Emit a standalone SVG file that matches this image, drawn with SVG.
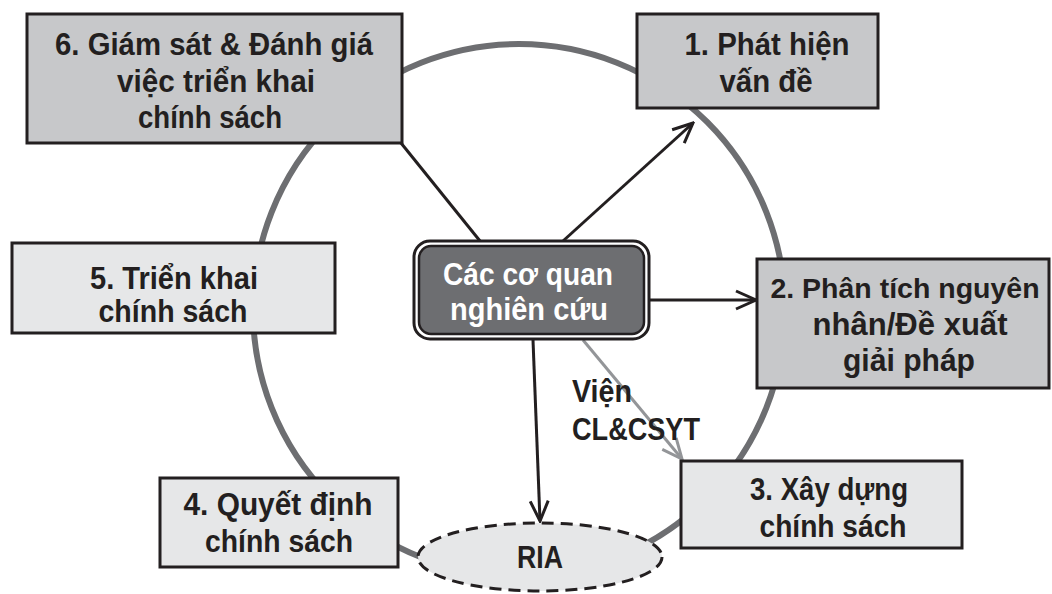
<svg xmlns="http://www.w3.org/2000/svg" width="1052" height="594" viewBox="0 0 1052 594">
<style>
.box{stroke:#231f20;stroke-width:3}
.dark{fill:#c7c8ca}
.light{fill:#e6e7e8}
.t{font-family:"Liberation Sans",Arial,sans-serif;font-weight:bold;font-size:31px;fill:#231f20;text-anchor:middle}
.w{fill:#ffffff}
.ln{stroke:#231f20;stroke-width:3;fill:none}
.gr{stroke:#939598;stroke-width:3;fill:none}
</style>
<defs>
<marker id="ah" markerUnits="userSpaceOnUse" markerWidth="24" markerHeight="24" viewBox="0 0 24 24" refX="22" refY="12" orient="auto">
<path d="M2,3 L22,12 L2,21" fill="none" stroke="#231f20" stroke-width="3"/>
</marker>
<marker id="ahg" markerUnits="userSpaceOnUse" markerWidth="24" markerHeight="24" viewBox="0 0 24 24" refX="22" refY="12" orient="auto">
<path d="M2,3 L22,12 L2,21" fill="none" stroke="#939598" stroke-width="3"/>
</marker>
</defs>
<rect width="1052" height="594" fill="#ffffff"/>
<circle id="cycle" cx="519" cy="310" r="266" fill="none" stroke="#6d6e71" stroke-width="6"/>
<g id="connectors">
<line class="ln" x1="401" y1="143" x2="480" y2="241"/>
<line class="ln" x1="563" y1="241" x2="693" y2="123" marker-end="url(#ah)"/>
<line class="ln" x1="650" y1="300" x2="756" y2="300" marker-end="url(#ah)"/>
<line class="ln" x1="533" y1="340" x2="540" y2="521" marker-end="url(#ah)"/>
<line class="gr" x1="583" y1="340" x2="682" y2="459" marker-end="url(#ahg)"/>
</g>
<g id="node6">
<rect class="box dark" x="27" y="14" width="375" height="129"/>
<text class="t" x="214" y="55" textLength="318" lengthAdjust="spacingAndGlyphs">6. Giám sát &amp; Đánh giá</text>
<text class="t" x="216" y="92" textLength="198" lengthAdjust="spacingAndGlyphs">việc triển khai</text>
<text class="t" x="210" y="128" textLength="144" lengthAdjust="spacingAndGlyphs">chính sách</text>
</g>
<g id="node1">
<rect class="box dark" x="637" y="14" width="241" height="94"/>
<text class="t" x="767" y="55" textLength="165" lengthAdjust="spacingAndGlyphs">1. Phát hiện</text>
<text class="t" x="766" y="92" textLength="93" lengthAdjust="spacingAndGlyphs">vấn đề</text>
</g>
<g id="node2">
<rect class="box dark" x="757" y="259" width="292" height="129"/>
<text class="t" x="905" y="298" style="font-size:28.5px">2. Phân tích nguyên</text>
<text class="t" x="910" y="335" textLength="195" lengthAdjust="spacingAndGlyphs">nhân/Đề xuất</text>
<text class="t" x="909" y="371" textLength="132" lengthAdjust="spacingAndGlyphs">giải pháp</text>
</g>
<g id="node5">
<rect class="box light" x="12" y="243" width="323" height="90"/>
<text class="t" x="174" y="289" textLength="168" lengthAdjust="spacingAndGlyphs">5. Triển khai</text>
<text class="t" x="173" y="322" textLength="149" lengthAdjust="spacingAndGlyphs">chính sách</text>
</g>
<g id="node4">
<rect class="box light" x="160" y="478" width="238" height="89"/>
<text class="t" x="278" y="515" textLength="189" lengthAdjust="spacingAndGlyphs">4. Quyết định</text>
<text class="t" x="279" y="552" textLength="148" lengthAdjust="spacingAndGlyphs">chính sách</text>
</g>
<g id="node3">
<rect class="box light" x="681" y="461" width="281" height="87"/>
<text class="t" x="829" y="500" textLength="158" lengthAdjust="spacingAndGlyphs">3. Xây dựng</text>
<text class="t" x="833" y="537" textLength="147" lengthAdjust="spacingAndGlyphs">chính sách</text>
</g>
<g id="ria">
<ellipse cx="540" cy="557" rx="122" ry="34" fill="#e6e7e8" stroke="#231f20" stroke-width="3" stroke-dasharray="12 7"/>
<text class="t" x="540" y="568" textLength="46" lengthAdjust="spacingAndGlyphs">RIA</text>
</g>
<g id="center">
<rect x="414" y="241" width="235" height="98" rx="16" fill="#ffffff" stroke="#231f20" stroke-width="3"/>
<rect x="419" y="246" width="225" height="88" rx="12" fill="#6d6e71" stroke="#231f20" stroke-width="2.5"/>
<text class="t w" x="528" y="285" textLength="170" lengthAdjust="spacingAndGlyphs">Các cơ quan</text>
<text class="t w" x="529" y="320" textLength="158" lengthAdjust="spacingAndGlyphs">nghiên cứu</text>
</g>
<g id="label-vien">
<text class="t" x="572" y="402" style="text-anchor:start" textLength="60" lengthAdjust="spacingAndGlyphs">Viện</text>
<text class="t" x="572" y="440" style="text-anchor:start" textLength="128" lengthAdjust="spacingAndGlyphs">CL&amp;CSYT</text>
</g>
</svg>
